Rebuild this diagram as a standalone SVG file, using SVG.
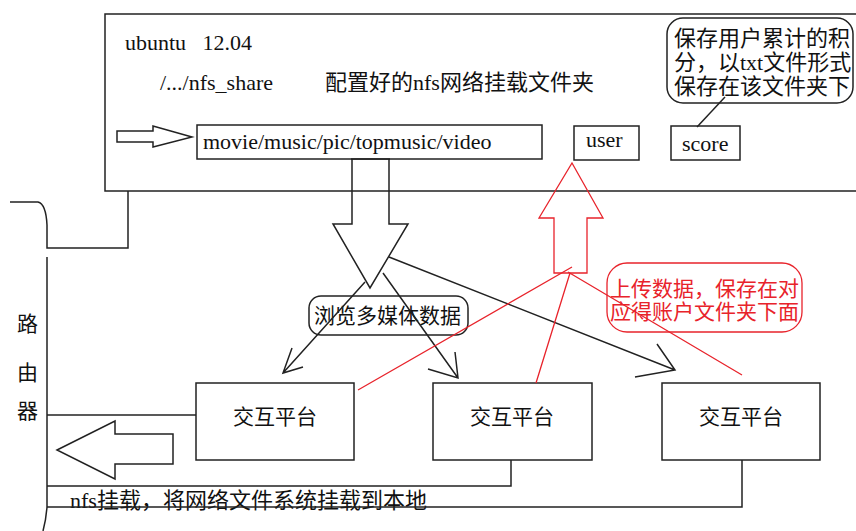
<svg xmlns="http://www.w3.org/2000/svg" width="856" height="531" viewBox="0 0 856 531">
<style>
.ln{fill:none;stroke:#222;stroke-width:1.5}
.rd{fill:none;stroke:#e8232b;stroke-width:1.3}
.bx{fill:#fff;stroke:#222;stroke-width:1.5}
.t{font-family:"Liberation Serif","Noto Sans CJK SC",serif;font-size:22px;fill:#111}
.c{font-family:"Liberation Serif","Noto Sans CJK SC",sans-serif;font-size:22px;fill:#111}
.s{font-size:21px}
.r{fill:#e8232b}
</style>
<rect width="856" height="531" fill="#fff"/>
<g id="ubuntu">
<path class="ln" d="M860,14 H105 V191 H860"/>
<text class="t" x="125" y="50" xml:space="preserve">ubuntu   12.04</text>
<text class="t" x="160" y="90">/.../nfs_share</text>
<text class="c" x="325" y="90">配置好的nfs网络挂载文件夹</text>
</g>
<g id="in-arrow">
<path class="ln" d="M117,131 H153 V126 L192,137 L153,147 V142 H117 Z"/>
</g>
<g id="media">
<rect class="bx" x="197" y="125" width="345" height="34"/>
<text class="t" x="203" y="149">movie/music/pic/topmusic/video</text>
</g>
<g id="user">
<rect class="bx" x="574" y="126" width="65" height="34"/>
<text class="t" x="586" y="147">user</text>
</g>
<g id="score">
<rect class="bx" x="671" y="126" width="69" height="34"/>
<text class="t" x="682" y="151">score</text>
</g>
<g id="score-note">
<rect class="bx" x="667" y="18" width="186" height="85" rx="16"/>
<text class="c" x="674" y="46">保存用户累计的积</text>
<text class="c" x="674" y="70">分，以txt文件形式</text>
<text class="c" x="674" y="94">保存在该文件夹下</text>
</g>
<g id="router">
<path class="ln" d="M10,202 H38 Q46,204 47,225 V248 H128 V191"/>
<path class="ln" d="M47,257 V507 Q46,520 43,531"/>
<text class="c s" x="17" y="331">路</text>
<text class="c s" x="17" y="380">由</text>
<text class="c s" x="17" y="418">器</text>
</g>
<g id="browse-note">
<rect class="bx" x="309" y="296" width="159" height="39" rx="12"/>
<text class="c s" x="314" y="323">浏览多媒体数据</text>
</g>
<g id="upload-note">
<rect x="607" y="263" width="195" height="69" rx="20" fill="none" stroke="#e8232b" stroke-width="1.3"/>
<text class="c s r" x="610" y="296">上传数据，保存在对</text>
<text class="c s r" x="610" y="319">应得账户文件夹下面</text>
</g>
<g id="platform1">
<rect class="bx" x="196" y="383" width="158" height="77"/>
<text class="c s" x="275" y="424" text-anchor="middle">交互平台</text>
</g>
<g id="platform2">
<rect class="bx" x="433" y="383" width="159" height="77"/>
<text class="c s" x="512" y="424" text-anchor="middle">交互平台</text>
</g>
<g id="platform3">
<rect class="bx" x="662" y="383" width="158" height="77"/>
<text class="c s" x="741" y="424" text-anchor="middle">交互平台</text>
</g>
<g id="mount-label">
<text class="c" x="70" y="508">nfs挂载，将网络文件系统挂载到本地</text>
</g>
<g id="connectors">
<path class="ln" d="M352,159 V224 H333 L370,288 L408,224 H389 V159"/>
<path class="ln" d="M351,159 H390" stroke-width="3"/>
<path class="ln" d="M389,257 L675,370 M657,344 L675,370 L635,377"/>
<path class="ln" d="M365,282 L283,373 M292,348 L283,373 L303,367"/>
<path class="ln" d="M383,273 L458,378 M455,352 L458,378 L428,369"/>
<path class="rd" d="M572,163 L603,218 H587 V273 H554 V218 H539 Z" stroke-width="1.6"/>
<path class="rd" d="M358,390 L572,267 M536,383 L570,273 M568,272 L742,375"/>
<path class="ln" d="M725,97 L697,127"/>
<path class="ln" d="M47,415 H196"/>
<path class="ln" d="M57,450 L115,421 V434 H173 V464 H115 V479 Z"/>
<path class="ln" d="M511,460 V486 H47"/>
<path class="ln" d="M742,460 V507 H47"/>
</g>
</svg>
